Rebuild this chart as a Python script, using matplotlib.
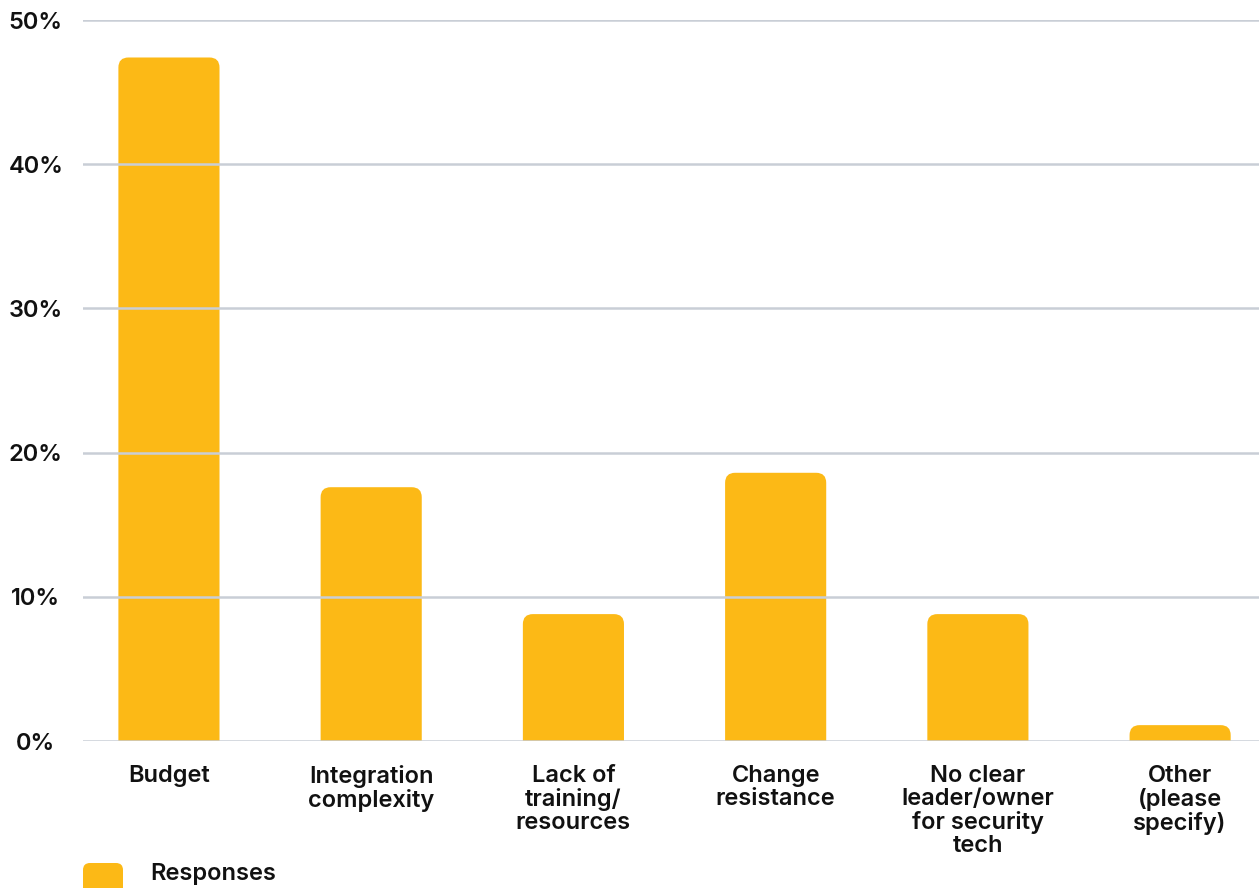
import matplotlib
matplotlib.use("Agg")
import matplotlib.pyplot as plt
from matplotlib.patches import FancyBboxPatch

categories = [
    "Budget",
    "Integration\ncomplexity",
    "Lack of\ntraining/\nresources",
    "Change\nresistance",
    "No clear\nleader/owner\nfor security\ntech",
    "Other\n(please\nspecify)",
]
responses = [47.4, 17.6, 8.8, 18.6, 8.8, 1.1]
yticks = [0, 10, 20, 30, 40, 50]
ytick_labels = ["0%", "10%", "20%", "30%", "40%", "50%"]
series_name = "Responses"

BAR = "#FCB916"
GRID = "#C9CED6"
TEXT = "#111111"

plt.rcParams["font.family"] = ["Inter", "DejaVu Sans"]

fig = plt.figure(figsize=(12.59, 8.88), dpi=100)
ax = fig.add_axes([83 / 1259, 1 - 741 / 888, 1 - 83 / 1259, (741 - 20) / 888])

x = list(range(len(categories)))
bars = ax.bar(x, responses, width=0.5, color=BAR, zorder=2)
ax.set_xlim(-0.425, 5.39)
ax.set_ylim(0, 50)
fig.canvas.draw()

# Replace plain bars with top-rounded ones (bottom rounding hidden below the axis)
radius_px = 10
to_disp = ax.transData
x0d, y0d = to_disp.transform((0, 0))
x1d, y1d = to_disp.transform((1, 1))
rx = radius_px / (x1d - x0d)
ry = radius_px / (y1d - y0d)
for b in bars:
    bx, bw, bh = b.get_x(), b.get_width(), b.get_height()
    b.set_visible(False)
    p = FancyBboxPatch(
        (bx, -ry * 2), bw, bh + ry * 2,
        boxstyle=f"round,pad=0,rounding_size={rx}",
        mutation_aspect=ry / rx,
        facecolor=BAR, edgecolor="none", zorder=2, clip_on=True,
    )
    ax.add_patch(p)

ax.set_yticks(yticks)
ax.set_yticklabels(ytick_labels)
ax.yaxis.grid(True, color=GRID, linewidth=1.8, zorder=3)
ax.set_axisbelow(False)
for s in ax.spines.values():
    s.set_visible(False)
ax.tick_params(axis="y", length=0, pad=34, labelsize=17, labelcolor=TEXT)
for lbl in ax.get_yticklabels():
    lbl.set_horizontalalignment("center")
    lbl.set_fontweight("semibold")

ax.set_xticks(x)
ax.set_xticklabels(categories, linespacing=1.07, fontsize=17, fontweight="semibold", color=TEXT)
ax.tick_params(axis="x", length=0, pad=17)

# Legend marker and label at the bottom edge
leg_ax = fig.add_axes([0, 0, 1, 1], facecolor="none")
leg_ax.set_xlim(0, 1259)
leg_ax.set_ylim(888, 0)
leg_ax.axis("off")
leg_ax.add_patch(FancyBboxPatch((83, 863), 40, 40,
                                boxstyle="round,pad=0,rounding_size=7",
                                facecolor=BAR, edgecolor="none"))
leg_ax.text(150, 874, series_name, fontsize=17, fontweight="semibold",
            color=TEXT, va="center", ha="left")

fig.savefig("out.png", dpi=100)
